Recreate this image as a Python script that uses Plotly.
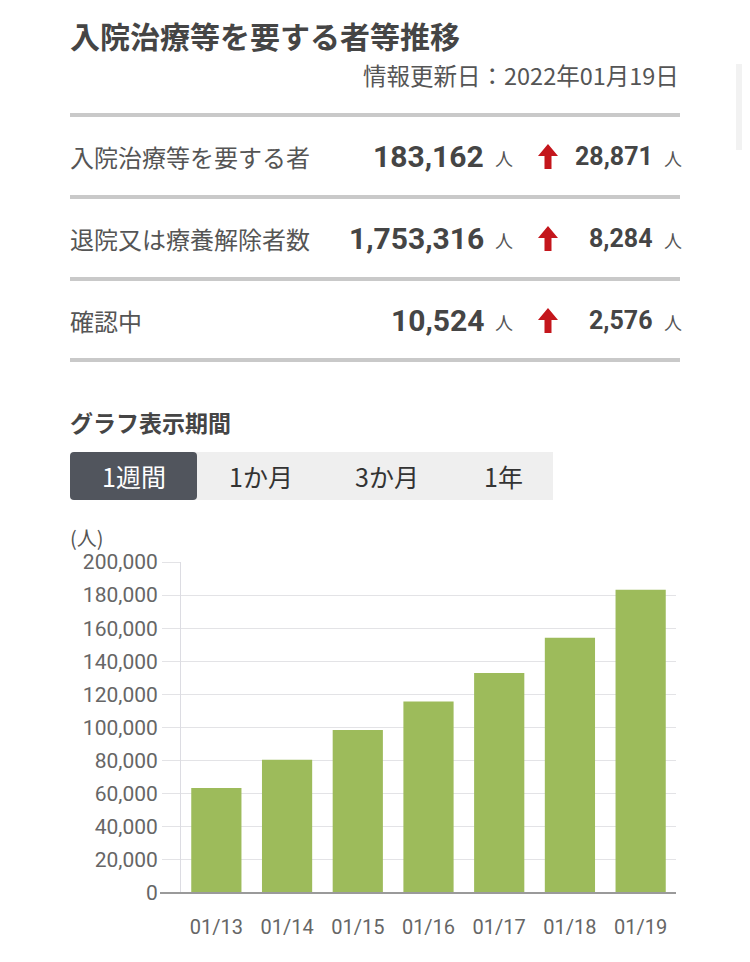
import plotly.graph_objects as go

# ---------------- data ----------------
dates = ["01/13", "01/14", "01/15", "01/16", "01/17", "01/18", "01/19"]
patients = [63500, 80500, 98500, 115700, 133000, 154291, 183162]

title_text = "入院治療等を要する者等推移"
updated_text = "情報更新日：2022年01月19日"

summary_labels = ["入院治療等を要する者", "退院又は療養解除者数", "確認中"]
summary_totals = [183162, 1753316, 10524]
summary_changes = [28871, 8284, 2576]

period_title = "グラフ表示期間"
period_buttons = ["1週間", "1か月", "3か月", "1年"]
active_period = 0
y_unit = "(人)"

# ---------------- geometry helpers (window pixel -> paper) ----------------
BODY = 8                      # default page margin around the plot div
W, H = 750 - 2 * BODY, 962 - 2 * BODY
PL, PR, PT, PB = 181, 676, 562, 893   # plot area in window pixels


def px(x):
    return (x - PL) / (PR - PL)


def py(y):
    return (PB - y) / (PB - PT)


JP = "Noto Sans CJK JP"
NUM = "Roboto, Noto Sans CJK JP"

fig = go.Figure()
fig.add_trace(go.Bar(
    x=dates, y=patients,
    marker=dict(color="#9dbb5b", line=dict(width=0)),
    hoverinfo="skip",
))

annotations = []
shapes = []


def text(x, y, s, size, color, anchor="left", family=JP, bold=False):
    annotations.append(dict(
        x=px(x), y=py(y), xref="paper", yref="paper",
        text=("<b>%s</b>" % s) if bold else s,
        showarrow=False, xanchor=anchor, yanchor="middle",
        font=dict(size=size, color=color, family=family),
    ))


# header
text(68, 35, title_text, 30, "#454545", bold=True)
text(681, 75, updated_text, 23.5, "#555555", anchor="right")

# separator lines
for yy in [115, 197, 279, 360]:
    shapes.append(dict(type="line", xref="paper", yref="paper",
                       x0=px(70), x1=px(680), y0=py(yy), y1=py(yy),
                       line=dict(color="#c9c9c9", width=4)))

# summary rows
row_y = [156, 238, 320]
for lbl, tot, chg, yy in zip(summary_labels, summary_totals, summary_changes, row_y):
    text(68, yy, lbl, 24, "#555555")
    text(486, yy, f"{tot:,}", 30, "#454545", anchor="right", family=NUM, bold=True)
    text(504, yy + 2, "人", 18, "#555555", anchor="center")
    text(655, yy, f"{chg:,}", 25, "#454545", anchor="right", family=NUM, bold=True)
    text(673, yy + 2, "人", 18, "#555555", anchor="center")
    # red up arrow
    ax, top = 548, yy - 12
    pts = [(ax, top), (ax + 10, top + 12), (ax + 3.5, top + 12), (ax + 3.5, top + 25),
           (ax - 3.5, top + 25), (ax - 3.5, top + 12), (ax - 10, top + 12)]
    path = "M " + " L ".join(f"{px(a):.5f},{py(b):.5f}" for a, b in pts) + " Z"
    shapes.append(dict(type="path", xref="paper", yref="paper", path=path,
                       fillcolor="#c4161c", line=dict(width=0)))

# period selector
text(68, 422, period_title, 23, "#454545", bold=True)
shapes.append(dict(type="rect", xref="paper", yref="paper",
                   x0=px(190), x1=px(553), y0=py(500), y1=py(452),
                   fillcolor="#efefef", line=dict(width=0), layer="below"))
# active button with rounded corners
r = 4
x0, x1, y0, y1 = 70, 197, 452, 500
pts_path = (f"M {px(x0 + r)},{py(y0)} L {px(x1 - r)},{py(y0)} "
            f"Q {px(x1)},{py(y0)} {px(x1)},{py(y0 + r)} L {px(x1)},{py(y1 - r)} "
            f"Q {px(x1)},{py(y1)} {px(x1 - r)},{py(y1)} L {px(x0 + r)},{py(y1)} "
            f"Q {px(x0)},{py(y1)} {px(x0)},{py(y1 - r)} L {px(x0)},{py(y0 + r)} "
            f"Q {px(x0)},{py(y0)} {px(x0 + r)},{py(y0)} Z")
shapes.append(dict(type="path", xref="paper", yref="paper", path=pts_path,
                   fillcolor="#51555d", line=dict(width=0)))
btn_x = [134, 261, 387, 503]
for i, (b, bx) in enumerate(zip(period_buttons, btn_x)):
    text(bx, 476, b, 25, "#ffffff" if i == active_period else "#333333", anchor="center")

# unit label
text(68, 537, y_unit, 20, "#555555")

# baseline extended to the left like the reference
shapes.append(dict(type="line", xref="paper", yref="paper",
                   x0=px(160), x1=px(676), y0=0, y1=0,
                   line=dict(color="#9a9a9a", width=2), layer="above"))

# faint scroll element at right edge
shapes.append(dict(type="rect", xref="paper", yref="paper",
                   x0=px(736), x1=px(742), y0=py(150), y1=py(64),
                   fillcolor="#f2f2f2", line=dict(width=0)))

fig.update_layout(
    width=W, height=H, autosize=False,
    margin=dict(l=PL - BODY, r=(BODY + W) - PR, t=PT - BODY, b=(BODY + H) - PB, pad=0),
    paper_bgcolor="white", plot_bgcolor="white",
    showlegend=False, bargap=0.29,
    annotations=annotations, shapes=shapes,
    font=dict(family=NUM, color="#666666"),
)
fig.update_xaxes(
    showgrid=False, showline=False, zeroline=False,
    ticks="outside", ticklen=16, tickcolor="rgba(0,0,0,0)",
    tickfont=dict(size=20, color="#666666", family=NUM),
    fixedrange=True,
)
fig.update_yaxes(
    range=[0, 200000], dtick=20000, tickformat=",",
    showgrid=True, gridcolor="#e3e3e6", gridwidth=1,
    showline=True, linecolor="#dcdce2", linewidth=1,
    zeroline=False,
    ticks="outside", ticklen=18, tickcolor="#e3e3e6",
    tickfont=dict(size=21, color="#666666", family=NUM),
    fixedrange=True,
)

fig.write_html("out.html", config={"displayModeBar": False})
